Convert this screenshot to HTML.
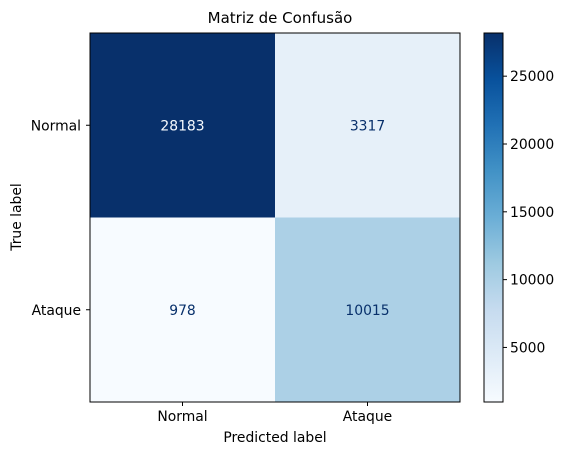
<!DOCTYPE html>
<html><head><meta charset="utf-8"><style>
body{margin:0;background:#fff;}
svg text{font-family:"DejaVu Sans","Liberation Sans",sans-serif;}
</style></head><body>
<svg id="chart" width="566" height="455" viewBox="0 0 566 455">
<defs>
<linearGradient id="blues" x1="0" y1="1" x2="0" y2="0">
<stop offset="0" stop-color="#f7fbff"/><stop offset="0.125" stop-color="#deebf7"/>
<stop offset="0.25" stop-color="#c6dbef"/><stop offset="0.375" stop-color="#9ecae1"/>
<stop offset="0.5" stop-color="#6baed6"/><stop offset="0.625" stop-color="#4292c6"/>
<stop offset="0.75" stop-color="#2171b5"/><stop offset="0.875" stop-color="#08519c"/>
<stop offset="1" stop-color="#08306b"/>
</linearGradient>
</defs>
<text x="280" y="23" font-size="15" text-anchor="middle">Matriz de Confusão</text>
<g id="cells"></g>
<rect x="90" y="33" width="370" height="369" fill="none" stroke="#000" stroke-width="1"/>
<g id="axes"></g>
<text x="275" y="442" font-size="13.9" text-anchor="middle">Predicted label</text>
<text x="0" y="0" font-size="13.9" text-anchor="middle" transform="translate(21,217) rotate(-90)">True label</text>
<rect x="484" y="33" width="19" height="369" fill="url(#blues)" stroke="#000" stroke-width="1"/>
<g id="cbticks"></g>
</svg>
<script>
const labels = ["Normal","Ataque"];
const matrix = [[28183,3317],[978,10015]];
const cbTicks = [5000,10000,15000,20000,25000];
const ns="http://www.w3.org/2000/svg";
const L=90,T=33,W=370,H=369,FS=13.9;
const vmin=Math.min(...matrix.flat()), vmax=Math.max(...matrix.flat());
const stops=["#f7fbff","#deebf7","#c6dbef","#9ecae1","#6baed6","#4292c6","#2171b5","#08519c","#08306b"];
function hex(c){return [1,3,5].map(i=>parseInt(c.substr(i,2),16));}
function cmap(v){let t=(v-vmin)/(vmax-vmin);t=Math.max(0,Math.min(1,t))*8;let i=Math.min(7,Math.floor(t)),f=t-i;
const a=hex(stops[i]),b=hex(stops[i+1]);return "rgb("+a.map((x,k)=>Math.round(x+(b[k]-x)*f)).join(",")+")";}
function mk(tag,attrs,parent){const e=document.createElementNS(ns,tag);for(const k in attrs)e.setAttribute(k,attrs[k]);parent.appendChild(e);return e;}
const n=labels.length,cw=W/n,ch=H/n;
const cells=document.getElementById("cells"),axes=document.getElementById("axes");
matrix.forEach((row,r)=>row.forEach((v,c)=>{
 const rc=mk("rect",{x:L+c*cw,y:T+r*ch,width:cw+0.5,height:ch+0.5,fill:cmap(v)},cells);
 
 
 const t=mk("text",{x:L+(c+0.5)*cw,y:T+(r+0.5)*ch+5,"font-size":FS,"text-anchor":"middle",fill:(v-vmin)/(vmax-vmin)>0.5?"#f7fbff":"#08306b"},cells);
 t.textContent=v;
 
 
}));
labels.forEach((lab,i)=>{
 const x=L+(i+0.5)*cw;
 mk("line",{x1:x,x2:x,y1:T+H,y2:T+H+4,stroke:"#000"},axes);
 const tx=mk("text",{x:x,y:T+H+19,"font-size":FS,"text-anchor":"middle"},axes);tx.textContent=lab;
 
 
 const y=T+(i+0.5)*ch;
 mk("line",{x1:L-4,x2:L,y1:y,y2:y,stroke:"#000"},axes);
 const ty=mk("text",{x:L-9,y:y+5,"font-size":FS,"text-anchor":"end"},axes);ty.textContent=lab;
 
 
});
const cb=document.getElementById("cbticks");
cbTicks.forEach(v=>{
 const y=T+H-(v-vmin)/(vmax-vmin)*H;
 mk("line",{x1:503,x2:507,y1:y,y2:y,stroke:"#000"},cb);
 const t=mk("text",{x:510,y:y+5,"font-size":FS},cb);t.textContent=v;
 
 
});
</script>
</body></html>
